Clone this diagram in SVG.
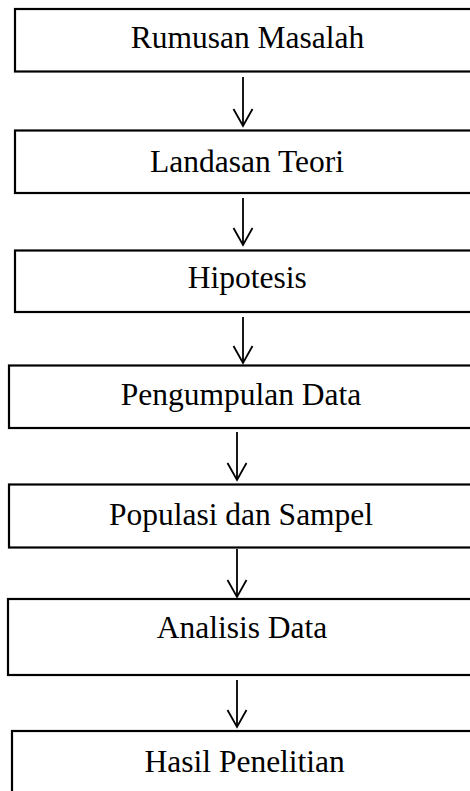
<svg xmlns="http://www.w3.org/2000/svg" width="470" height="791" viewBox="0 0 470 791">
<style>
.box{fill:#fff;stroke:#000;stroke-width:2.2}
.lbl{font-family:"Liberation Serif","Times New Roman",serif;font-size:31.5px;fill:#000;text-anchor:middle}
.conn{stroke:#000;stroke-width:1.8;fill:none}
</style>
<defs>
<marker id="arr" viewBox="-1 -11 20 22" refX="17" refY="0" markerWidth="20" markerHeight="22" markerUnits="userSpaceOnUse" orient="auto" overflow="visible">
<path d="M0,-9.5 L17,0 L0,9.5" fill="none" stroke="#000" stroke-width="1.8"/>
</marker>
</defs>
<rect width="470" height="791" fill="#fff"/>
<g id="n1"><rect class="box" x="15" y="9" width="470" height="62.5"/><text class="lbl" x="247.5" y="47.7">Rumusan Masalah</text></g>
<g id="n2"><rect class="box" x="15" y="130.5" width="470" height="62.5"/><text class="lbl" x="247" y="171.7">Landasan Teori</text></g>
<g id="n3"><rect class="box" x="15" y="250.5" width="470" height="61.5"/><text class="lbl" x="247.3" y="288.3">Hipotesis</text></g>
<g id="n4"><rect class="box" x="9" y="365.5" width="470" height="62.5"/><text class="lbl" x="241" y="405">Pengumpulan Data</text></g>
<g id="n5"><rect class="box" x="9" y="484.5" width="470" height="63"/><text class="lbl" x="241" y="525">Populasi dan Sampel</text></g>
<g id="n6"><rect class="box" x="8" y="599" width="470" height="76"/><text class="lbl" x="242" y="638">Analisis Data</text></g>
<g id="n7"><rect class="box" x="12" y="731" width="470" height="80"/><text class="lbl" x="244.7" y="771.7">Hasil Penelitian</text></g>
<g id="connectors">
<line class="conn" x1="243" y1="77" x2="243" y2="126" marker-end="url(#arr)"/>
<line class="conn" x1="243" y1="198" x2="243" y2="245" marker-end="url(#arr)"/>
<line class="conn" x1="243" y1="317" x2="243" y2="363" marker-end="url(#arr)"/>
<line class="conn" x1="237" y1="432" x2="237" y2="480" marker-end="url(#arr)"/>
<line class="conn" x1="237" y1="549" x2="237" y2="597" marker-end="url(#arr)"/>
<line class="conn" x1="237" y1="680" x2="237" y2="727" marker-end="url(#arr)"/>
</g>
</svg>
